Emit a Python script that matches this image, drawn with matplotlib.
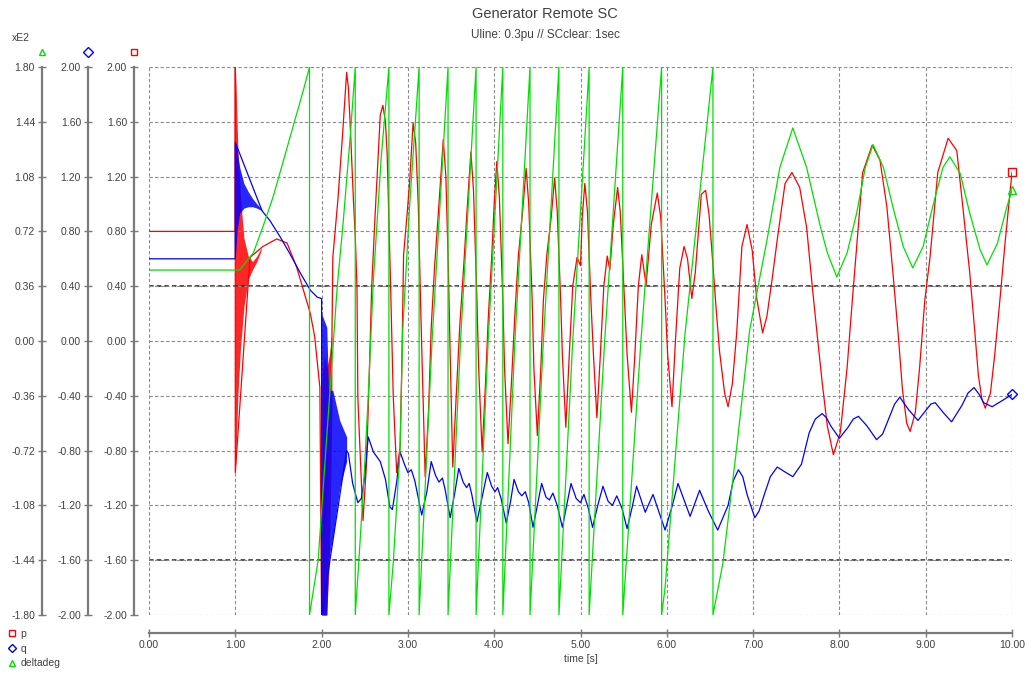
import matplotlib
matplotlib.use('Agg')
import matplotlib.pyplot as plt
import numpy as np
from matplotlib.lines import Line2D

plt.rcParams['font.family'] = ['Liberation Sans', 'DejaVu Sans']

# ---- values (time in s) ----
# active power p [pu]
p_t = [0.0, 1.0, 1.0, 1.0, 1.17, 1.32, 1.48, 1.60, 1.71, 1.79, 1.87, 1.92, 1.98, 2.00,
       2.12, 2.13, 2.19, 2.24, 2.29, 2.31, 2.33, 2.37, 2.39, 2.41, 2.42, 2.44, 2.48,
       2.52, 2.55, 2.58, 2.62, 2.68, 2.71, 2.74, 2.76, 2.78, 2.80, 2.83, 2.87,
       2.91, 2.93, 2.95, 2.99, 3.02, 3.06, 3.09, 3.12, 3.15, 3.20,
       3.24, 3.27, 3.31, 3.36, 3.41, 3.44, 3.47, 3.49, 3.52,
       3.56, 3.60, 3.65, 3.69, 3.73, 3.76, 3.80, 3.82, 3.86,
       3.90, 3.93, 3.97, 4.00, 4.03, 4.06, 4.10, 4.12, 4.16,
       4.20, 4.24, 4.28, 4.33, 4.37, 4.40, 4.44, 4.46, 4.50,
       4.54, 4.57, 4.61, 4.66, 4.70, 4.73, 4.77, 4.79, 4.83,
       4.87, 4.91, 4.96, 5.00, 5.02, 5.05, 5.08, 5.12, 5.15, 5.19,
       5.23, 5.27, 5.31, 5.34, 5.38, 5.43, 5.46, 5.51, 5.54, 5.59,
       5.63, 5.67, 5.71, 5.76, 5.82, 5.89, 5.93, 5.98, 6.01, 6.06,
       6.10, 6.15, 6.20, 6.24, 6.29, 6.33, 6.40, 6.45, 6.49, 6.52, 6.57, 6.61, 6.67, 6.71,
       6.76, 6.81, 6.87, 6.93, 6.99, 7.04, 7.11, 7.16, 7.22, 7.28, 7.37, 7.45,
       7.54, 7.62, 7.69, 7.75, 7.80, 7.86, 7.93, 8.01, 8.09, 8.15, 8.20, 8.27, 8.38,
       8.47, 8.55, 8.62, 8.68, 8.73, 8.78, 8.82, 8.88, 8.93, 8.99, 9.05, 9.14, 9.26,
       9.36, 9.43, 9.51, 9.57, 9.61, 9.65, 9.69, 9.75, 9.80, 9.86, 9.92, 10.0]
p_v = [0.80, 0.80, 2.00, -0.96, 0.61, 0.69, 0.745, 0.715, 0.54, 0.37, 0.20, 0.03, -0.34, -2.0,
       0.04, 0.61, 1.04, 1.48, 1.96, 1.85, 1.60, 1.01, 0.77, 0.39, -0.41, -0.72, -1.31,
       -0.90, -0.30, 0.39, 0.92, 1.65, 1.72, 1.60, 1.36, 0.87, 0.39, -0.40, -0.96,
       -0.77, -0.16, 0.63, 0.92, 1.16, 1.59, 1.45, 1.00, 0.20, -0.99,
       -0.50, 0.10, 0.55, 1.00, 1.47, 1.20, 0.50, -0.10, -0.92,
       -0.40, 0.10, 0.58, 1.00, 1.38, 1.10, 0.30, -0.20, -0.81,
       -0.30, 0.15, 0.60, 1.00, 1.31, 1.05, 0.30, -0.20, -0.75,
       -0.30, 0.20, 0.62, 0.95, 1.26, 1.00, 0.30, -0.20, -0.69,
       -0.20, 0.30, 0.63, 0.90, 1.19, 0.95, 0.30, -0.10, -0.63,
       -0.10, 0.40, 0.61, 0.55, 0.90, 1.15, 0.95, 0.30, -0.10, -0.56,
       -0.10, 0.40, 0.62, 0.52, 0.85, 1.12, 0.95, 0.30, -0.10, -0.52,
       -0.10, 0.40, 0.63, 0.41, 0.85, 1.08, 0.90, 0.30, -0.10, -0.48,
       0.00, 0.53, 0.69, 0.60, 0.31, 0.50, 1.07, 1.10, 0.92, 0.68, 0.25, -0.07, -0.38, -0.48,
       -0.31, 0.06, 0.69, 0.85, 0.66, 0.32, 0.06, 0.18, 0.45, 0.74, 1.15, 1.23,
       1.12, 0.83, 0.37, 0.00, -0.30, -0.62, -0.83, -0.67, -0.19, 0.30, 0.69, 1.23, 1.43,
       1.32, 0.98, 0.50, 0.06, -0.35, -0.60, -0.66, -0.52, -0.19, 0.30, 0.61, 1.23, 1.48,
       1.39, 0.98, 0.50, 0.06, -0.25, -0.42, -0.49, -0.38, -0.10, 0.30, 0.72, 1.23]

# densely oscillating parts of p, given as envelopes
p_band1_t = [1.00, 1.01, 1.03, 1.06, 1.10, 1.15, 1.20, 1.25, 1.30]
p_band1_hi = [2.00, 1.85, 1.40, 1.05, 0.75, 0.62, 0.58, 0.62, 0.68]
p_band1_lo = [-0.96, -0.80, -0.40, -0.05, 0.25, 0.45, 0.52, 0.58, 0.66]
p_band2_t = [2.00, 2.03, 2.06, 2.09, 2.12]
p_band2_hi = [-0.30, -0.10, -0.20, -0.10, 0.04]
p_band2_lo = [-2.00, -2.00, -2.00, -1.60, -0.50]

# reactive power q [pu]
q_t = [0.0, 1.0, 1.0, 1.31, 1.40, 1.52, 1.63, 1.75, 1.87, 1.95, 2.00, 2.00,
       2.29, 2.31, 2.36, 2.42, 2.46, 2.50, 2.54, 2.60, 2.68, 2.74, 2.79, 2.82, 2.87,
       2.91, 2.96, 3.00, 3.04, 3.08, 3.16, 3.22, 3.27,
       3.32, 3.36, 3.40, 3.43, 3.49, 3.54, 3.59,
       3.64, 3.68, 3.71, 3.74, 3.80, 3.86, 3.92,
       3.97, 4.01, 4.04, 4.08, 4.14, 4.19, 4.23,
       4.28, 4.32, 4.36, 4.40, 4.45, 4.50, 4.55,
       4.60, 4.64, 4.68, 4.73, 4.79, 4.84, 4.89,
       4.95, 5.00, 5.04, 5.09, 5.14, 5.20, 5.26,
       5.32, 5.37, 5.42, 5.48, 5.54, 5.60, 5.65,
       5.75, 5.84, 5.98, 6.06, 6.13,
       6.27, 6.38, 6.48, 6.59, 6.71, 6.77, 6.83, 6.88, 6.93, 7.02, 7.07, 7.13, 7.20,
       7.28, 7.38, 7.46, 7.56, 7.65, 7.72, 7.80, 7.85, 7.90, 8.00, 8.10, 8.16, 8.22,
       8.32, 8.43, 8.50, 8.57, 8.64, 8.70, 8.80, 8.91, 9.01, 9.06, 9.11, 9.20, 9.30,
       9.42, 9.49, 9.56, 9.62, 9.67, 9.77, 9.90, 10.0]
q_v = [0.60, 0.60, 1.45, 0.95, 0.88, 0.76, 0.64, 0.50, 0.37, 0.32, 0.31, -2.0,
       -0.80, -0.82, -1.04, -1.18, -1.15, -0.99, -0.70, -0.81, -0.88, -1.01, -1.21, -1.23, -1.03,
       -0.81, -0.90, -0.96, -0.94, -1.02, -1.27, -1.10, -0.88,
       -0.98, -1.03, -1.00, -1.08, -1.29, -1.12, -0.93,
       -1.03, -1.07, -1.04, -1.12, -1.32, -1.14, -0.96,
       -1.06, -1.10, -1.07, -1.15, -1.33, -1.17, -1.01,
       -1.10, -1.13, -1.10, -1.18, -1.36, -1.20, -1.04,
       -1.14, -1.16, -1.11, -1.20, -1.36, -1.20, -1.04,
       -1.15, -1.18, -1.12, -1.22, -1.36, -1.20, -1.06,
       -1.17, -1.20, -1.13, -1.22, -1.37, -1.21, -1.06,
       -1.25, -1.12, -1.38, -1.21, -1.04,
       -1.28, -1.09, -1.24, -1.38, -1.20, -1.02, -0.94, -0.99, -1.12, -1.29, -1.24, -1.12, -0.99,
       -0.92, -0.96, -0.99, -0.90, -0.67, -0.57, -0.53, -0.56, -0.62, -0.71, -0.63, -0.57, -0.55,
       -0.62, -0.72, -0.68, -0.57, -0.46, -0.41, -0.50, -0.58, -0.50, -0.46, -0.45, -0.52, -0.59,
       -0.47, -0.38, -0.34, -0.39, -0.45, -0.48, -0.43, -0.39]

q_band1_t = [1.00, 1.02, 1.05, 1.10, 1.15, 1.20, 1.25, 1.31]
q_band1_hi = [1.45, 1.40, 1.27, 1.15, 1.09, 1.04, 1.00, 0.96]
q_band1_lo = [0.60, 0.80, 0.93, 0.97, 0.98, 0.98, 0.97, 0.95]
q_band2_t = [2.00, 2.06, 2.08, 2.13, 2.21, 2.29]
q_band2_hi = [0.20, 0.10, -0.36, -0.36, -0.58, -0.70]
q_band2_lo = [-2.00, -2.00, -1.60, -1.43, -1.07, -0.88]

# rotor angle deltadeg [x100 deg], wraps at +-180
d_t = [0.0, 1.05, 1.11, 1.21, 1.32, 1.44, 1.55, 1.67, 1.79, 1.86,
       1.86, 1.91, 1.96, 2.18, 2.25, 2.33, 2.39,
       2.39, 2.43, 2.49, 2.54, 2.60, 2.69, 2.78,
       2.78, 2.83, 2.91, 2.94, 3.02, 3.10, 3.13,
       3.13, 3.28, 3.465, 3.465, 3.61, 3.79, 3.79, 3.93, 4.10, 4.10, 4.24, 4.415,
       4.415, 4.57, 4.75, 4.75, 4.91, 5.10, 5.10, 5.28, 5.49, 5.49, 5.70, 5.94,
       5.94, 5.98, 6.21, 6.535,
       6.535, 6.65, 6.81, 6.96, 7.16, 7.31, 7.46, 7.62, 7.78, 7.86, 7.97,
       8.09, 8.20, 8.30, 8.39, 8.51, 8.62, 8.74, 8.85, 8.97, 9.08, 9.20, 9.28,
       9.40, 9.51, 9.63, 9.71, 9.83, 9.94, 10.0]
d_v = [0.466, 0.466, 0.51, 0.58, 0.75, 0.95, 1.17, 1.41, 1.65, 1.80,
       -1.80, -1.62, -1.44, 0.35, 0.78, 1.33, 1.80,
       -1.80, -1.46, -0.91, -0.37, 0.40, 1.20, 1.80,
       -1.80, -1.46, -0.70, 0.07, 0.89, 1.55, 1.80,
       -1.80, 0.00, 1.80, -1.80, 0.00, 1.80, -1.80, 0.00, 1.80, -1.80, 0.00, 1.80,
       -1.80, 0.00, 1.80, -1.80, 0.00, 1.80, -1.80, 0.00, 1.80, -1.80, 0.00, 1.80,
       -1.80, -1.62, 0.04, 1.80,
       -1.80, -1.46, -0.70, 0.07, 0.66, 1.14, 1.40, 1.14, 0.75, 0.58, 0.42,
       0.58, 0.84, 1.14, 1.29, 1.14, 0.88, 0.62, 0.48, 0.62, 0.88, 1.14, 1.21,
       1.10, 0.84, 0.60, 0.50, 0.64, 0.88, 0.99]

ref_lines = [0.4, -1.6]
pq_ticks = np.linspace(-2.0, 2.0, 11)
d_ticks = np.linspace(-1.8, 1.8, 11)
x_ticks = np.arange(0, 11)

RED, BLUE, GREEN = '#ff0000', '#0000ff', '#00e000'
TXT = '#404040'
AXC = '#7a7a7a'
PX = 0.72  # points per pixel at 100 dpi


def fmt(vals):
    return ['%.2f' % (0.0 if abs(v) < 1e-9 else v) for v in vals]


def side_axis(a, ticks, px):
    for s in ['top', 'right', 'bottom']:
        a.spines[s].set_visible(False)
    a.spines['left'].set_visible(True)
    a.spines['left'].set_position(('outward', px * PX))
    a.spines['left'].set_color(AXC)
    a.spines['left'].set_linewidth(1.6)
    a.yaxis.set_ticks_position('left')
    a.set_yticks(ticks)
    a.set_yticklabels(fmt(ticks))
    a.tick_params(direction='inout', length=6, width=1, color=AXC,
                  labelsize=7.5, labelcolor=TXT, pad=2)


fig = plt.figure(figsize=(10.31, 6.75), dpi=100)
L, R = 149 / 1031, 1012 / 1031
B, T = 1 - 615 / 675, 1 - 67 / 675
ax = fig.add_axes([L, B, R - L, T - B])
ax.set_xlim(0, 10)
ax.set_ylim(-2, 2)

ax.set_xticks(x_ticks)
ax.set_xticklabels(fmt(x_ticks))
side_axis(ax, pq_ticks, 15)
ax.spines['bottom'].set_visible(True)
ax.spines['bottom'].set_position(('outward', 18 * PX))
ax.spines['bottom'].set_color(AXC)
ax.spines['bottom'].set_linewidth(1.6)
ax.tick_params(axis='x', direction='inout', length=6, width=1, color=AXC,
               labelsize=7.5, labelcolor=TXT, pad=2)
ax.grid(True, color='#8a8a8a', linestyle=(0, (3, 2)), linewidth=0.8)
for y in ref_lines:
    ax.axhline(y, color='#202020', linestyle=(0, (3, 2)), linewidth=1.1, zorder=1.5)
ax.set_xlabel('time [s]', fontsize=7.5, color=TXT, labelpad=3)

# p
ax.fill_between(p_band1_t, p_band1_lo, p_band1_hi, color=RED, alpha=0.85, lw=0)
ax.fill_between(p_band2_t, p_band2_lo, p_band2_hi, color=RED, alpha=0.85, lw=0)
ax.plot(p_t, p_v, color=RED, lw=0.9)
ax.plot(p_t[-1], p_v[-1], 's', mfc='none', mec=RED, ms=6, clip_on=False)

# q
axq = ax.twinx()
axq.set_ylim(-2, 2)
axq.patch.set_visible(False)
side_axis(axq, pq_ticks, 61)
axq.fill_between(q_band1_t, q_band1_lo, q_band1_hi, color=BLUE, alpha=0.85, lw=0)
axq.fill_between(q_band2_t, q_band2_lo, q_band2_hi, color=BLUE, alpha=0.85, lw=0)
axq.plot(q_t, q_v, color=BLUE, lw=0.9)
axq.plot(q_t[-1], q_v[-1], 'D', mfc='none', mec=BLUE, ms=5, clip_on=False)

# deltadeg
axd = ax.twinx()
axd.set_ylim(-1.8, 1.8)
axd.patch.set_visible(False)
side_axis(axd, d_ticks, 107)
axd.plot(d_t, d_v, color=GREEN, lw=0.9)
axd.plot(d_t[-1], d_v[-1], '^', mfc='none', mec=GREEN, ms=6, clip_on=False)

# axis symbols above the y axes
for xp, mk, c in [(42, '^', GREEN), (88, 'D', BLUE), (134, 's', RED)]:
    fig.add_artist(Line2D([xp / 1031], [1 - 52 / 675], marker=mk, mfc='none', mec=c,
                          ms=5, transform=fig.transFigure))
fig.text(12 / 1031, 1 - 38 / 675, 'xE2', fontsize=7.5, color=TXT, va='center')

fig.text(545 / 1031, 1 - 14 / 675, 'Generator Remote SC', fontsize=10.5,
         color=TXT, ha='center', va='center')
fig.text(545 / 1031, 1 - 35 / 675, 'Uline: 0.3pu // SCclear: 1sec', fontsize=8.5,
         color=TXT, ha='center', va='center')

handles = [Line2D([], [], ls='none', marker='s', mfc='none', mec=RED, ms=5),
           Line2D([], [], ls='none', marker='D', mfc='none', mec=BLUE, ms=4.5),
           Line2D([], [], ls='none', marker='^', mfc='none', mec=GREEN, ms=5)]
leg = fig.legend(handles, ['p', 'q', 'deltadeg'], loc='upper left',
                 bbox_to_anchor=(7 / 1031, 1 - 629 / 675), frameon=False,
                 fontsize=7.5, handlelength=1.0, handletextpad=0.3,
                 labelspacing=0.45, borderpad=0, borderaxespad=0)
for t in leg.get_texts():
    t.set_color(TXT)

fig.savefig('out.png', dpi=100)
